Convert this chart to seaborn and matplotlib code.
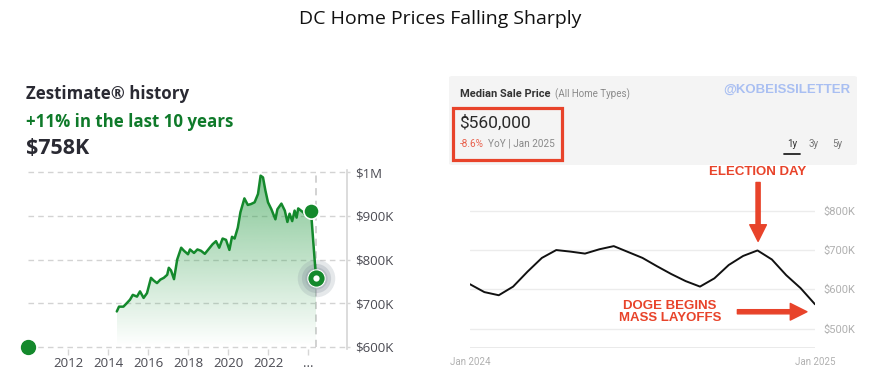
import numpy as np
import seaborn as sns
import matplotlib.pyplot as plt
from matplotlib.patches import Rectangle, FancyBboxPatch

# ---- data ----
zest_years = [2014.44, 2014.55, 2014.77, 2014.94, 2015.10, 2015.24, 2015.45, 2015.60, 2015.78, 2015.95,
              2016.15, 2016.28, 2016.45, 2016.62, 2016.79, 2016.96, 2017.04, 2017.15, 2017.30, 2017.46,
              2017.66, 2017.80, 2018.00, 2018.10, 2018.30, 2018.47, 2018.65, 2018.84, 2019.00, 2019.23,
              2019.40, 2019.56, 2019.73, 2019.90, 2020.07, 2020.20, 2020.33, 2020.49, 2020.62, 2020.82,
              2020.99, 2021.15, 2021.33, 2021.50, 2021.63, 2021.75, 2021.87, 2022.00, 2022.17, 2022.37,
              2022.47, 2022.67, 2022.84, 2022.97, 2023.08, 2023.21, 2023.33, 2023.43, 2023.51, 2023.76,
              2023.98, 2024.15, 2024.40]
zest_values = [681, 692, 692, 700, 708, 719, 715, 727, 712, 723,
               758, 752, 746, 754, 758, 765, 781, 775, 755, 800,
               827, 820, 812, 823, 815, 823, 820, 813, 822, 835,
               842, 827, 848, 845, 822, 852, 848, 873, 908, 940,
               925, 927, 931, 950, 992, 988, 958, 931, 915, 892,
               915, 928, 912, 886, 905, 888, 912, 896, 917, 908,
               896, 910, 758]
zest_ticks = [2012, 2014, 2016, 2018, 2020, 2022, 2024]
zest_tick_labels = ["2012", "2014", "2016", "2018", "2020", "2022", "..."]
zest_yticks = [600, 700, 800, 900, 1000]
zest_ylabels = ["$600K", "$700K", "$800K", "$900K", "$1M"]
range_start = (2010.0, 600)
prior_point = (2024.15, 910)
current_point = (2024.40, 758)

sale_months = [0, 0.5, 1, 1.5, 2, 2.5, 3, 3.5, 4, 4.5, 5, 5.5, 6, 6.5, 7, 7.5, 8, 8.5,
               9, 9.5, 10, 10.5, 11, 11.5, 12]
sale_values = [613, 593, 585, 607, 645, 680, 700, 696, 691, 702, 710, 695, 680, 659,
               639, 621, 607, 628, 662, 685, 699, 676, 636, 603, 562]
sale_yticks = [500, 600, 700, 800]
sale_ylabels = ["$500K", "$600K", "$700K", "$800K"]

W, H = 880, 391
GREEN = "#14892c"
RED = "#e8432a"


def fx(px):
    return px / W


def fy(py):
    return 1 - py / H


sns.set_theme(style="white")
plt.rcParams["font.family"] = ["Open Sans", "DejaVu Sans"]

fig = plt.figure(figsize=(W / 100, H / 100), dpi=100)
fig.patch.set_facecolor("white")

fig.text(0.5, fy(19), "DC Home Prices Falling Sharply", ha="center", va="center",
         fontsize=14, color="#111111")

# ---------------- left panel: Zestimate history ----------------
fig.text(fx(26), fy(94), "Zestimate® history", fontsize=12.2, fontweight="bold",
         color="#2a2a33", va="center")
fig.text(fx(26), fy(121.5), "+11% in the last 10 years", fontsize=12.2, fontweight="bold",
         color="#0f7a2a", va="center")
fig.text(fx(26), fy(148), "$758K", fontsize=15.5, fontweight="bold", color="#2a2a33", va="center")

ax1 = fig.add_axes([fx(20), fy(349), fx(347) - fx(20), (349 - 170) / H])
ax1.set_xlim(2009.6, 2025.95)
ax1.set_ylim(595, 1005)

ax1.hlines(zest_yticks, 2010, 2025.95, colors="#d3d3d3", linestyles=(0, (4, 3)), lw=1, zorder=0)
ax1.vlines(current_point[0], 600, 1002, colors="#cfcfcf", linestyles=(0, (4, 3)), lw=1.3, zorder=1)

# gradient fill under the line
fill = ax1.fill_between(zest_years, zest_values, 600, facecolor="none", edgecolor="none")
grad = np.zeros((200, 2, 4))
grad[..., :3] = np.array([46, 158, 74]) / 255
grad[..., 3] = np.linspace(0.6, 0.0, 200)[:, None]
im = ax1.imshow(grad, extent=[zest_years[0], zest_years[-1], 600, 1000], aspect="auto",
                origin="upper", zorder=1)
im.set_clip_path(fill.get_paths()[0], transform=ax1.transData)

sns.lineplot(x=zest_years, y=zest_values, ax=ax1, color=GREEN, lw=1.8, zorder=3)

ax1.plot(*range_start, "o", ms=10, color=GREEN, clip_on=False, zorder=4)
ax1.plot(*prior_point, "o", ms=11, color=GREEN, mec="white", mew=1.2, zorder=4)
ax1.plot(*current_point, "o", ms=27, color="#7f8c99", alpha=0.2, mew=0, zorder=2)
ax1.plot(*current_point, "o", ms=21, color="#7f8c99", alpha=0.25, mew=0, zorder=2)
ax1.plot(*current_point, "o", ms=16, color="#7f8c99", alpha=0.25, mew=0, zorder=2)
ax1.plot(*current_point, "o", ms=12.5, color=GREEN, mec="white", mew=0.8, zorder=5)
ax1.plot(*current_point, "o", ms=4.5, color="white", mew=0, zorder=6)

for s in ["top", "left", "bottom"]:
    ax1.spines[s].set_visible(False)
ax1.spines["right"].set_color("#d6d6d6")
ax1.spines["right"].set_linewidth(1.2)
ax1.yaxis.tick_right()
ax1.set_yticks(zest_yticks)
ax1.set_yticklabels(zest_ylabels)
ax1.set_xticks(zest_ticks)
ax1.set_xticklabels(zest_tick_labels)
ax1.tick_params(axis="y", length=2.5, width=1, color="#d6d6d6", pad=3.5, labelsize=9.5,
                labelcolor="#4a4a52", right=True, left=False)
ax1.tick_params(axis="x", length=4.5, width=1, color="#d6d6d6", pad=1.5, labelsize=9.5,
                labelcolor="#4a4a52", bottom=True)
ax1.set_xlabel("")
ax1.set_ylabel("")
ax1.grid(False)

# ---------------- right panel: median sale price ----------------
fig.patches.append(FancyBboxPatch((fx(449), fy(165)), fx(857) - fx(449), (165 - 76) / H,
                                  boxstyle="round,pad=0,rounding_size=0.004",
                                  transform=fig.transFigure, facecolor="#f4f4f4",
                                  edgecolor="none", zorder=0))
fig.patches.append(Rectangle((fx(453), fy(160)), fx(562) - fx(453), (160 - 108) / H,
                             transform=fig.transFigure, facecolor="none", edgecolor=RED,
                             lw=2.3, zorder=1))
fig.text(fx(460), fy(94), "Median Sale Price", fontsize=8, fontweight="bold",
         color="#333333", va="center", family=["Roboto", "DejaVu Sans"])
fig.text(fx(555), fy(94.5), "(All Home Types)", fontsize=7, color="#8a8a8a", va="center",
         family=["Roboto", "DejaVu Sans"])
fig.text(fx(850), fy(90), "@KOBEISSILETTER", fontsize=9.5, fontweight="bold", color="#a9bff2",
         ha="right", va="center", family=["Liberation Sans", "DejaVu Sans"])
fig.text(fx(459), fy(122.5), "$560,000", fontsize=12.5, color="#2a2a2a", va="center",
         family=["Roboto", "DejaVu Sans"])
fig.text(fx(460), fy(144), "-8.6%", fontsize=7.2, color="#e8604c", va="center",
         family=["Roboto", "DejaVu Sans"])
fig.text(fx(488.5), fy(144), "YoY | Jan 2025", fontsize=7.2, color="#8a8a8a", va="center",
         family=["Roboto", "DejaVu Sans"])
for px, lab, col in [(792, "1y", "#333333"), (814, "3y", "#777777"), (837, "5y", "#777777")]:
    fig.text(fx(px), fy(144), lab, fontsize=7, color=col, ha="center", va="center",
             family=["Roboto", "DejaVu Sans"])
fig.lines.append(plt.Line2D([fx(784), fx(800)], [fy(154), fy(154)], transform=fig.transFigure,
                            color="#222222", lw=1.3))

ax2 = fig.add_axes([fx(470), fy(348.3), fx(815) - fx(470), (348.3 - 197) / H])
ax2.set_xlim(0, 12)
ax2.set_ylim(450, 835)
ax2.axhline(450, color="#e6e6e6", lw=1.2, zorder=0)
sns.lineplot(x=sale_months, y=sale_values, ax=ax2, color="#111111", lw=1.4, zorder=3)
for s in ax2.spines.values():
    s.set_visible(False)
ax2.grid(axis="y", color="#ececec", lw=1)
ax2.grid(axis="x", visible=False)
ax2.yaxis.tick_right()
ax2.set_yticks(sale_yticks)
ax2.set_yticklabels(sale_ylabels)
ax2.set_xticks([0, 12])
ax2.set_xticklabels(["Jan 2024", "Jan 2025"])
ax2.tick_params(axis="y", length=0, pad=6, labelsize=8, labelcolor="#b0b0b0")
ax2.tick_params(axis="x", length=0, pad=6.5, labelsize=7, labelcolor="#b0b0b0")
for lab in ax2.get_xticklabels() + ax2.get_yticklabels():
    lab.set_family(["Roboto", "DejaVu Sans"])
ax2.set_xlabel("")
ax2.set_ylabel("")

ann = dict(fontsize=9.5, fontweight="bold", color=RED, ha="center", va="center",
           family=["Liberation Sans", "DejaVu Sans"])
ax2.text(10.02, 899, "ELECTION DAY", **ann)
ax2.annotate("", xy=(10.02, 722), xytext=(10.02, 872), annotation_clip=False,
             arrowprops=dict(facecolor=RED, edgecolor=RED, width=3, headwidth=12,
                             headlength=12, shrink=0))
ax2.text(6.96, 543, "DOGE BEGINS\nMASS LAYOFFS", linespacing=1.05, **ann)
ax2.annotate("", xy=(11.72, 543), xytext=(9.3, 543), annotation_clip=False,
             arrowprops=dict(facecolor=RED, edgecolor=RED, width=3, headwidth=12,
                             headlength=12, shrink=0))

fig.savefig("out.png", dpi=100)
